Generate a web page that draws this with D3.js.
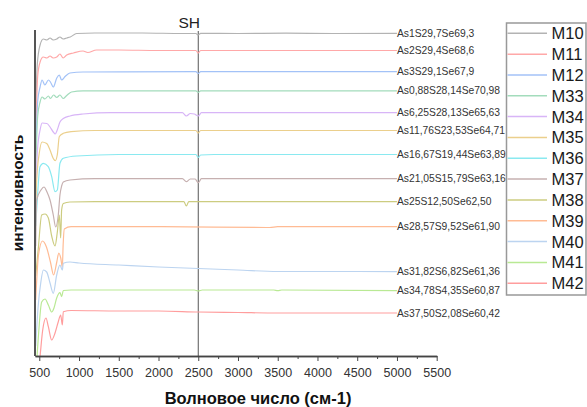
<!DOCTYPE html>
<html>
<head>
<meta charset="utf-8">
<script src="https://cdn.jsdelivr.net/npm/d3@7"></script>
<style>
  body { margin: 0; background: #fff; }
  svg { font-family: "Liberation Sans", Arial, sans-serif; }
  .curve { fill: none; stroke-width: 1.2; }
  .x.axis path, .x.axis line { stroke: #444; }
  .x.axis text { fill: #333; font-size: 12.5px; }
</style>
</head>
<body>
<div id="chart"></div>
<script>
// spectra: [wavenumber, intensity (offset a.u.)]
var m10 = [[455,240],[475,292],[510,311],[550,317],[595,316],[635,318],[675,316],[720,317],[760,319],[800,317],[845,318],[890,319],[970,322.5],[1200,323],[1800,323],[2300,322.5],[2470,322.5],[2500,321],[2530,322.7],[3000,322.5],[3600,322.8],[4200,322.5],[5000,322.7]];
var m11 = [[455,220],[480,280],[510,294],[550,299],[595,298],[635,300],[675,298],[720,299],[760,302],[800,298],[845,301],[930,303],[1050,305],[1110,303.5],[1220,306],[1500,306],[2000,305.5],[2470,305.5],[2500,303],[2530,305.5],[3500,305.5],[5000,305.5]];
var m12 = [[455,200],[480,255],[510,269],[535,276],[570,271],[615,276],[640,274],[676,269],[720,278],[752,281],[780,276],[825,279.5],[885,283],[1050,284],[2470,284.3],[2500,282.5],[2530,284.3],[5000,284.3]];
var m33 = [[455,185],[480,240],[510,254],[535,259],[570,257],[615,260],[640,257.5],[680,261],[720,258.5],[760,261],[800,257.5],[845,260.5],[905,264],[1050,265.2],[2470,265.2],[2500,263.5],[2530,265.2],[5000,265.2]];
var m34 = [[455,150],[477,206],[510,226],[535,233],[595,232.5],[635,229],[676,224],[700,222],[726,226],[760,234],[802,237.5],[886,240],[1050,242],[1400,243.3],[2300,243.3],[2350,240],[2400,242.5],[2450,242],[2500,240],[2540,243.3],[5000,243.3]];
var m35 = [[455,150],[465,173],[500,203],[535,214],[593,212.5],[635,206],[676,197.5],[700,195.3],[726,201],[752,219.5],[802,222.7],[900,224.3],[1200,225.5],[2470,225.5],[2500,223],[2530,225.5],[5000,225.5]];
var m36 = [[455,130],[470,150],[509,189.3],[551,192.7],[613,189.3],[656,179.3],[698,164.3],[727,166],[760,192.7],[802,197.7],[970,200],[1500,201.5],[2470,201.5],[2500,198.5],[2530,201],[2700,201.5],[5000,201.5]];
var m37 = [[455,110],[467,156],[521,166],[559,169],[597,164],[635,156],[676,141],[706,129],[739,141],[760,161],[781,170],[802,174],[886,176],[1200,177.3],[2300,177.3],[2350,174.3],[2400,177],[2460,177],[2500,173.3],[2540,177.3],[5000,177.3]];
var m38 = [[455,80],[488,108],[530,141],[572,142],[614,138],[656,120],[698,110],[727,124],[752,141],[769,118],[781,146],[802,152.5],[886,154],[1200,154.3],[2320,154.3],[2350,150],[2380,154.3],[5000,154.3]];
var m39 = [[455,56],[490,101],[540,115],[590,109],[640,94],[680,81],[720,94],[745,103],[770,98],[790,89],[800,111],[815,127],[900,129.3],[2000,129.3],[3400,128.5],[3500,129.3],[5000,129.3]];
var m40 = [[455,10],[485,49],[518,73],[551,86],[593,84],[635,73],[676,62.7],[719,81],[760,91],[790,86],[802,92.7],[886,94],[1000,93],[1500,91],[2000,89],[2500,87.5],[3000,86],[3500,84.5],[4000,84.5],[4500,84.5],[5000,84.3]];
var m41 = [[455,-20],[488,19],[530,54],[572,57],[614,51],[656,44],[685,48],[719,58],[760,63.3],[781,59.3],[802,65.5],[900,66],[2450,66],[2500,65],[2550,66],[3450,66],[3500,65.3],[3550,66],[5000,65.3]];
var m42 = [[455,-40],[509,-0.7],[543,26],[584,38],[614,29.3],[656,16],[698,23],[739,34.3],[769,41],[790,31],[802,44.3],[900,45.5],[1500,45],[2000,45],[2500,44],[3000,43.5],[3500,43],[4000,43],[5000,43]];

var seriesNames = ["M10","M11","M12","M33","M34","M35","M36","M37","M38","M39","M40","M41","M42"];
var compositions = ["As1S29,7Se69,3","As2S29,4Se68,6","As3S29,1Se67,9","As0,88S28,14Se70,98","As6,25S28,13Se65,63",
  "As11,76S23,53Se64,71","As16,67S19,44Se63,89","As21,05S15,79Se63,16","As25S12,50Se62,50","As28,57S9,52Se61,90",
  "As31,82S6,82Se61,36","As34,78S4,35Se60,87","As37,50S2,08Se60,42"];
var colors = ["#b3b3b3","#ffa8a8","#a3c2f7","#a3dcbc","#d8b5f7","#ebcf8c","#8ae9f0","#c6b0b0","#cccc80","#ffbb94","#bcd4f0","#b9e994","#ff9d9d"];
var spectra = [m10,m11,m12,m33,m34,m35,m36,m37,m38,m39,m40,m41,m42];
var majorTicks = [500,1000,1500,2000,2500,3000,3500,4000,4500,5000,5500];
var minorTicks = [750,1250,1750,2250,2750,3250,3750,4250,4750,5250];
var shPosition = 2500;

var margin = {top: 30, left: 35},
    width = 401.7,
    height = 326;

var x = d3.scaleLinear().domain([446, 5500]).range([0, width]);
var y = d3.scaleLinear().domain([0, 326]).range([height, 0]);

var svg = d3.select("#chart").append("svg")
    .attr("width", 587)
    .attr("height", 407);

var g = svg.append("g")
    .attr("transform", "translate(" + margin.left + "," + margin.top + ")");

svg.append("defs").append("clipPath")
    .attr("id", "plot-clip")
  .append("rect")
    .attr("x", 0).attr("y", -5)
    .attr("width", width).attr("height", height + 5);

var line = d3.line()
    .curve(d3.curveMonotoneX)
    .x(function(d) { return x(d[0]); })
    .y(function(d) { return y(d[1]); });

// SH marker line
g.append("line")
    .attr("x1", x(shPosition)).attr("x2", x(shPosition))
    .attr("y1", 1).attr("y2", height)
    .attr("stroke", "#555")
    .attr("stroke-width", 1);

g.append("text")
    .attr("x", x(shPosition) - 9)
    .attr("y", -2.5)
    .attr("text-anchor", "middle")
    .style("font-size", "15.5px")
    .style("fill", "#222")
    .text("SH");

var curves = g.append("g").attr("clip-path", "url(#plot-clip)");

spectra.forEach(function(pts, i) {
  curves.append("path")
      .datum(pts)
      .attr("class", "curve")
      .attr("stroke", colors[i])
      .attr("d", line);
});

// composition labels at end of each curve
spectra.forEach(function(pts, i) {
  var last = pts[pts.length - 1];
  g.append("text")
      .attr("x", x(last[0]))
      .attr("y", y(last[1]))
      .attr("dy", "0.35em")
      .style("font-size", "10.3px")
      .style("fill", "#333")
      .text(compositions[i]);
});

// x axis with minor ticks
g.append("g")
    .attr("class", "x axis")
    .attr("transform", "translate(0," + height + ")")
    .call(d3.axisBottom(x).tickValues(minorTicks).tickSize(3).tickSizeOuter(0).tickFormat(""));

g.append("g")
    .attr("class", "x axis")
    .attr("transform", "translate(0," + height + ")")
    .call(d3.axisBottom(x).tickValues(majorTicks).tickSize(5).tickSizeOuter(0).tickPadding(7)
      .tickFormat(d3.format("d")));

g.selectAll(".x.axis .domain").attr("stroke-width", 1.5);

// left axis line, no ticks
g.append("line")
    .attr("x1", 0).attr("x2", 0)
    .attr("y1", 0).attr("y2", height)
    .attr("stroke", "#555")
    .attr("stroke-width", 2);

// axis titles
svg.append("text")
    .attr("x", 258)
    .attr("y", 404)
    .attr("text-anchor", "middle")
    .style("font-size", "16.5px")
    .style("font-weight", "bold")
    .style("fill", "#111")
    .text("Волновое число (см-1)");

svg.append("text")
    .attr("transform", "translate(23,193) rotate(-90)")
    .attr("text-anchor", "middle")
    .style("font-size", "15.5px")
    .style("font-weight", "bold")
    .style("fill", "#111")
    .text("интенсивность");

// legend
var legend = svg.append("g").attr("transform", "translate(506.5,23)");
legend.append("rect")
    .attr("width", 79.5)
    .attr("height", 272)
    .attr("fill", "#fff")
    .attr("stroke", "#999")
    .attr("stroke-width", 1.5);

var item = legend.selectAll(".item")
    .data(seriesNames)
  .enter().append("g")
    .attr("class", "item")
    .attr("transform", function(d, i) { return "translate(0," + (10.3 + i * 20.83) + ")"; });

item.append("line")
    .attr("x1", 1).attr("x2", 40.5)
    .attr("stroke", function(d, i) { return colors[i]; })
    .attr("stroke-width", 1.5);

item.append("text")
    .attr("x", 45)
    .attr("dy", "0.36em")
    .style("font-size", "16.5px")
    .style("fill", "#1a1a1a")
    .text(function(d) { return d; });
</script>
</body>
</html>
